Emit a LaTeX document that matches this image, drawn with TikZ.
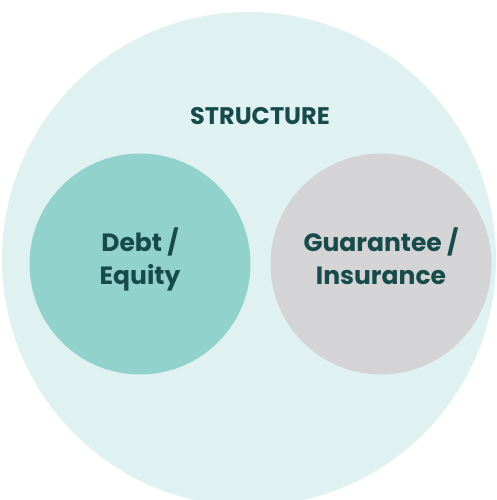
\documentclass[tikz,border=0pt]{standalone}
\usepackage{fontspec}
\setmainfont{Poppins}
\usepackage{tikz}

\definecolor{outerfill}{HTML}{DFF1F1}
\definecolor{tealfill}{HTML}{91D2CC}
\definecolor{greyfill}{HTML}{D4D4D6}
\definecolor{darkteal}{HTML}{174A4B}

\tikzset{
  part/.style={circle, minimum size=221pt, inner sep=0pt, align=center,
    text depth=15pt, text=darkteal, font=\fontsize{25}{33}\selectfont\bfseries},
}

\begin{document}
\begin{tikzpicture}[x=1pt,y=-1pt]
                \useasboundingbox (0,0) rectangle (497,500);
                \fill[white] (0,0) rectangle (497,500);

                \node[circle, fill=outerfill, minimum size=494pt, inner sep=0pt] (outer) at (249,259) {};
                \node[text=darkteal, font=\fontsize{24}{26}\selectfont\bfseries] (title) at (260,116) {STRUCTURE};

                \node[part, fill=tealfill] (debt) at (140,264) {Debt /\\Equity};
                \node[part, fill=greyfill] (guar) at (381,264) {Guarantee /\\Insurance};
            \end{tikzpicture}
\end{document}
